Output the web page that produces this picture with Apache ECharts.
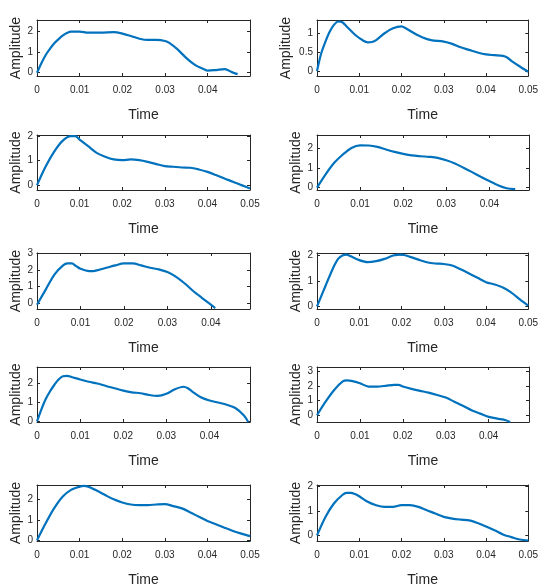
<!DOCTYPE html>
<html><head><meta charset="utf-8">
<script src="https://cdn.jsdelivr.net/npm/echarts@6/dist/echarts.min.js"></script>
<style>html,body{margin:0;padding:0;background:#fff}#c{width:541px;height:588px}</style>
</head><body><div id="c"></div>
<script>
// ---- data (time in s, amplitude) ----
const t1=[0,0.001,0.002,0.003,0.004,0.005,0.006,0.007,0.008,0.01,0.012,0.015,0.018,0.02,0.022,0.024,0.026,0.028,0.03,0.031,0.033,0.035,0.037,0.039,0.04,0.042,0.044,0.045,0.046,0.047];
const a1=[0,0.45,0.85,1.15,1.42,1.62,1.8,1.93,2.0,2.0,1.95,1.95,1.97,1.9,1.78,1.65,1.59,1.59,1.54,1.45,1.12,0.71,0.38,0.18,0.1,0.13,0.17,0.1,0,-0.07];
const t2=[0,0.001,0.002,0.003,0.004,0.005,0.006,0.007,0.009,0.011,0.012,0.013,0.014,0.016,0.018,0.02,0.021,0.023,0.025,0.027,0.03,0.032,0.034,0.036,0.038,0.04,0.042,0.044,0.045,0.046,0.048,0.05];
const a2=[0,0.47,0.78,1.04,1.22,1.31,1.29,1.18,0.96,0.8,0.76,0.77,0.82,1.0,1.13,1.18,1.13,1.0,0.89,0.82,0.78,0.72,0.63,0.56,0.49,0.44,0.42,0.4,0.36,0.27,0.12,-0.02];
const t3=[0,0.002,0.004,0.006,0.008,0.009,0.01,0.012,0.014,0.016,0.018,0.02,0.022,0.024,0.026,0.028,0.03,0.032,0.034,0.036,0.038,0.04,0.042,0.044,0.046,0.048,0.05];
const a3=[0,0.75,1.36,1.81,2.0,2.0,1.86,1.59,1.32,1.16,1.05,1.02,1.05,1.02,0.95,0.86,0.78,0.75,0.72,0.71,0.64,0.54,0.41,0.27,0.14,0,-0.14];
const t4=[0,0.002,0.004,0.006,0.008,0.01,0.012,0.014,0.016,0.018,0.02,0.022,0.024,0.026,0.028,0.03,0.032,0.034,0.036,0.038,0.04,0.042,0.044,0.046];
const a4=[0,0.67,1.25,1.67,2.0,2.13,2.12,2.05,1.92,1.8,1.7,1.62,1.58,1.55,1.5,1.38,1.22,1.0,0.78,0.55,0.33,0.12,-0.03,-0.08];
const t5=[0,0.002,0.004,0.006,0.007,0.008,0.009,0.01,0.012,0.013,0.014,0.016,0.018,0.02,0.022,0.024,0.026,0.028,0.03,0.032,0.034,0.036,0.038,0.04,0.041];
const a5=[-0.1,0.81,1.72,2.27,2.39,2.39,2.23,2.07,1.93,1.93,1.99,2.13,2.27,2.39,2.39,2.27,2.13,2.03,1.87,1.58,1.18,0.71,0.3,-0.1,-0.3];
const t6=[0,0.002,0.004,0.005,0.006,0.007,0.008,0.01,0.012,0.014,0.016,0.018,0.02,0.022,0.024,0.026,0.028,0.03,0.032,0.034,0.036,0.038,0.04,0.042,0.044,0.046,0.048,0.05];
const a6=[0,0.8,1.57,1.86,1.99,2.03,1.96,1.81,1.73,1.77,1.86,1.99,2.03,1.94,1.83,1.73,1.68,1.66,1.6,1.45,1.29,1.12,0.95,0.86,0.74,0.54,0.28,0.03];
const t7=[0,0.001,0.002,0.003,0.004,0.005,0.006,0.007,0.008,0.01,0.012,0.014,0.016,0.018,0.02,0.022,0.024,0.026,0.028,0.03,0.032,0.034,0.035,0.036,0.038,0.04,0.042,0.044,0.046,0.048,0.049];
const a7=[0,0.62,1.16,1.56,1.9,2.19,2.36,2.38,2.32,2.19,2.07,1.98,1.85,1.73,1.61,1.52,1.47,1.38,1.33,1.44,1.68,1.81,1.73,1.56,1.26,1.09,0.99,0.87,0.7,0.31,-0.03];
const t8=[0,0.002,0.004,0.006,0.007,0.008,0.01,0.012,0.014,0.016,0.018,0.019,0.02,0.022,0.024,0.026,0.028,0.03,0.032,0.034,0.036,0.038,0.04,0.042,0.044,0.045];
const a8=[0,0.92,1.72,2.3,2.37,2.34,2.18,1.95,1.95,2.0,2.07,2.07,1.95,1.79,1.66,1.54,1.38,1.2,0.92,0.64,0.34,0.11,-0.11,-0.23,-0.34,-0.46];
const t9=[0,0.002,0.004,0.006,0.008,0.01,0.011,0.012,0.014,0.016,0.018,0.02,0.022,0.024,0.026,0.028,0.03,0.032,0.034,0.036,0.038,0.04,0.042,0.044,0.046,0.048,0.05];
const a9=[0,0.82,1.56,2.13,2.46,2.62,2.66,2.62,2.43,2.21,2.0,1.85,1.75,1.72,1.72,1.75,1.77,1.67,1.56,1.36,1.15,0.95,0.79,0.62,0.46,0.33,0.21];
const t10=[0,0.002,0.004,0.006,0.007,0.008,0.009,0.01,0.012,0.014,0.016,0.018,0.02,0.022,0.024,0.026,0.028,0.03,0.032,0.034,0.036,0.038,0.04,0.042,0.044,0.046,0.048,0.05];
const a10=[0,0.76,1.31,1.66,1.75,1.75,1.7,1.61,1.38,1.24,1.17,1.17,1.24,1.24,1.17,1.03,0.9,0.76,0.69,0.65,0.62,0.51,0.37,0.21,0.04,-0.07,-0.17,-0.21];

// ---- tick labels ----
const xTicksFull=[0,0.01,0.02,0.03,0.04,0.05];
const xTicksShort=[0,0.01,0.02,0.03,0.04];
const yTicksInt=[0,1,2];
const yTicksHalf=[0,0.5,1];
const yTicksInt3=[0,1,2,3];

// ---- axis limits per panel ----
const xMaxes=[0.0499,0.05,0.05,0.0492,0.049,0.05,0.0494,0.0494,0.05,0.05];
const yMins=[-0.16,-0.13,-0.2,-0.12,-0.36,-0.1,-0.03,-0.46,-0.03,-0.23];
const yMaxes=[2.56,1.35,2.05,2.65,3.02,2.09,2.84,3.28,2.7,2.07];

const times=[t1,t2,t3,t4,t5,t6,t7,t8,t9,t10];
const amps=[a1,a2,a3,a4,a5,a6,a7,a8,a9,a10];
const xTickSets=[xTicksShort,xTicksFull,xTicksFull,xTicksShort,xTicksShort,xTicksFull,xTicksShort,xTicksShort,xTicksFull,xTicksFull];
const yTickSets=[yTicksInt,yTicksHalf,yTicksInt,yTicksInt,yTicksInt3,yTicksInt,yTicksInt,yTicksInt3,yTicksInt,yTicksInt];

// ---- layout ----
const lefts=[37,317], widths=[213,212];
const tops=[20,135,253,367,485], heights=[56,55,56,55,56];
const yNameGaps=[13,24,13,13,13,13,13,13,13,13];
const TXT='#262626', FONT='"Liberation Sans", Arial, sans-serif', BLUE='#0072BD';

const grid=[], xAxis=[], yAxis=[], series=[];
for(let i=0;i<10;i++){
  const r=Math.floor(i/2), c=i%2;
  grid.push({left:lefts[c],top:tops[r],width:widths[c],height:heights[r],containLabel:false});
  const xt=xTickSets[i], yt=yTickSets[i];
  const line={show:true,onZero:false,lineStyle:{color:TXT,width:1}};
  const xTick={show:true,inside:true,length:3,customValues:xt,lineStyle:{color:TXT,width:1}};
  const yTick={show:true,inside:true,length:3,customValues:yt,lineStyle:{color:TXT,width:1}};
  xAxis.push({type:'value',gridIndex:i,position:'bottom',min:0,max:xMaxes[i],
    axisLine:line,axisTick:xTick,splitLine:{show:false},
    axisLabel:{customValues:xt,formatter:v=>v===0?'0':v.toFixed(2),fontSize:10,color:TXT,margin:9,fontFamily:FONT},
    name:'Time',nameLocation:'middle',nameGap:32,nameTextStyle:{fontSize:14,color:TXT,fontFamily:FONT}});
  xAxis.push({type:'value',gridIndex:i,position:'top',min:0,max:xMaxes[i],
    axisLine:line,axisTick:xTick,splitLine:{show:false},axisLabel:{show:false}});
  yAxis.push({type:'value',gridIndex:i,position:'left',min:yMins[i],max:yMaxes[i],
    axisLine:line,axisTick:yTick,splitLine:{show:false},
    axisLabel:{customValues:yt,formatter:v=>String(v),fontSize:10,color:TXT,margin:4,fontFamily:FONT},
    name:'Amplitude',nameLocation:'middle',nameGap:yNameGaps[i],nameTextStyle:{fontSize:14,color:TXT,fontFamily:FONT}});
  yAxis.push({type:'value',gridIndex:i,position:'right',min:yMins[i],max:yMaxes[i],
    axisLine:line,axisTick:yTick,splitLine:{show:false},axisLabel:{show:false}});
  series.push({type:'line',xAxisIndex:2*i,yAxisIndex:2*i,showSymbol:false,smooth:0.3,clip:true,
    data:times[i].map((x,j)=>[x,amps[i][j]]),lineStyle:{color:BLUE,width:2.2}});
}
const chart=echarts.init(document.getElementById('c'),null,{renderer:'canvas'});
chart.setOption({animation:false,backgroundColor:'#fff',grid,xAxis,yAxis,series});
</script></body></html>
